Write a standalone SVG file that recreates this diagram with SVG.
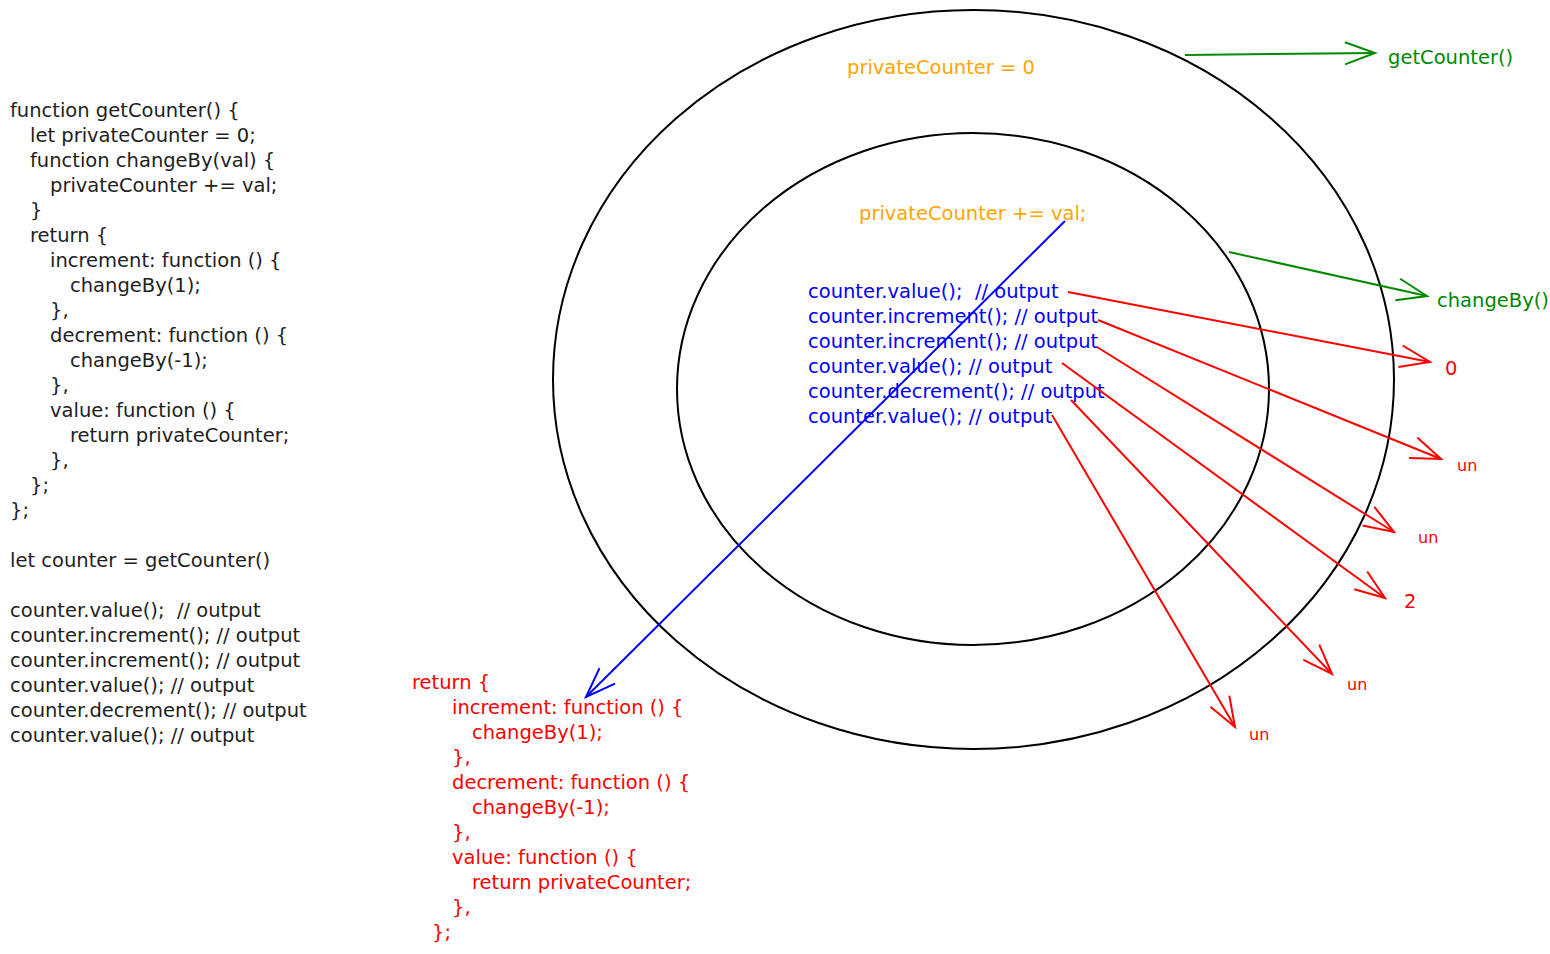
<svg xmlns="http://www.w3.org/2000/svg" width="1550" height="954" viewBox="0 0 1550 954">
<style>
text{font-family:"DejaVu Sans","Liberation Sans",sans-serif;font-size:19.5px;white-space:pre}
.k{fill:#1e1e1e}.r{fill:#f00}.b{fill:#00f}.o{fill:#ffa500}.g{fill:#080}
.sm{font-size:16px}
.ring{fill:none;stroke:#000;stroke-width:2}
.lr{fill:none;stroke:#f00;stroke-width:2;marker-end:url(#mr)}
.lb{fill:none;stroke:#00f;stroke-width:2;marker-end:url(#mb)}
.lg{fill:none;stroke:#080;stroke-width:2;marker-end:url(#mg)}
</style>
<defs>
<marker id="mr" markerUnits="userSpaceOnUse" markerWidth="40" markerHeight="40" refX="0" refY="0" orient="auto" viewBox="-35 -20 40 40" overflow="visible"><path d="M-30 -11 L0 0 L-30 11" fill="none" stroke="#f00" stroke-width="2"/></marker>
<marker id="mb" markerUnits="userSpaceOnUse" markerWidth="40" markerHeight="40" refX="0" refY="0" orient="auto" viewBox="-35 -20 40 40" overflow="visible"><path d="M-30 -11 L0 0 L-30 11" fill="none" stroke="#00f" stroke-width="2"/></marker>
<marker id="mg" markerUnits="userSpaceOnUse" markerWidth="40" markerHeight="40" refX="0" refY="0" orient="auto" viewBox="-35 -20 40 40" overflow="visible"><path d="M-30 -11 L0 0 L-30 11" fill="none" stroke="#080" stroke-width="2"/></marker>
</defs>
<rect width="1550" height="954" fill="#fff"/>
<g id="source-code">
<text class="k">
<tspan x="10" y="117">function getCounter() {</tspan>
<tspan x="30" y="142">let privateCounter = 0;</tspan>
<tspan x="30" y="167">function changeBy(val) {</tspan>
<tspan x="50" y="192">privateCounter += val;</tspan>
<tspan x="30" y="217">}</tspan>
<tspan x="30" y="242">return {</tspan>
<tspan x="50" y="267">increment: function () {</tspan>
<tspan x="70" y="292">changeBy(1);</tspan>
<tspan x="50" y="317">},</tspan>
<tspan x="50" y="342">decrement: function () {</tspan>
<tspan x="70" y="367">changeBy(-1);</tspan>
<tspan x="50" y="392">},</tspan>
<tspan x="50" y="417">value: function () {</tspan>
<tspan x="70" y="442">return privateCounter;</tspan>
<tspan x="50" y="467">},</tspan>
<tspan x="30" y="492">};</tspan>
<tspan x="10" y="517">};</tspan>
<tspan x="10" y="567">let counter = getCounter()</tspan>
<tspan x="10" y="617">counter.value();  // output</tspan>
<tspan x="10" y="642">counter.increment(); // output</tspan>
<tspan x="10" y="667">counter.increment(); // output</tspan>
<tspan x="10" y="692">counter.value(); // output</tspan>
<tspan x="10" y="717">counter.decrement(); // output</tspan>
<tspan x="10" y="742">counter.value(); // output</tspan>
</text>
</g>
<g id="outer-scope">
<ellipse class="ring" cx="973.5" cy="379.5" rx="420.5" ry="369.5"/>
<text class="o" x="847" y="74">privateCounter = 0</text>
</g>
<g id="inner-scope">
<ellipse class="ring" cx="973" cy="389" rx="296" ry="256"/>
<text class="o" x="859" y="220">privateCounter += val;</text>
</g>
<g id="calls">
<text class="b">
<tspan x="808" y="298">counter.value();  // output</tspan>
<tspan x="808" y="323">counter.increment(); // output</tspan>
<tspan x="808" y="348">counter.increment(); // output</tspan>
<tspan x="808" y="373">counter.value(); // output</tspan>
<tspan x="808" y="398">counter.decrement(); // output</tspan>
<tspan x="808" y="423">counter.value(); // output</tspan>
</text>
</g>
<g id="returned-object">
<text class="r">
<tspan x="412" y="689">return {</tspan>
<tspan x="452" y="714">increment: function () {</tspan>
<tspan x="472" y="739">changeBy(1);</tspan>
<tspan x="452" y="764">},</tspan>
<tspan x="452" y="789">decrement: function () {</tspan>
<tspan x="472" y="814">changeBy(-1);</tspan>
<tspan x="452" y="839">},</tspan>
<tspan x="452" y="864">value: function () {</tspan>
<tspan x="472" y="889">return privateCounter;</tspan>
<tspan x="452" y="914">},</tspan>
<tspan x="432" y="939">};</tspan>
</text>
</g>
<g id="label-getCounter"><text class="g" x="1388" y="64">getCounter()</text></g>
<g id="label-changeBy"><text class="g" x="1437" y="307">changeBy()</text></g>
<g id="out-1"><text class="r" x="1445" y="375">0</text></g>
<g id="out-2"><text class="r sm" x="1457" y="471">un</text></g>
<g id="out-3"><text class="r sm" x="1418" y="543">un</text></g>
<g id="out-4"><text class="r" x="1404" y="608">2</text></g>
<g id="out-5"><text class="r sm" x="1347" y="690">un</text></g>
<g id="out-6"><text class="r sm" x="1249" y="740">un</text></g>
<g id="connectors">
<path class="lg" d="M1185 55 L1375 53"/>
<path class="lg" d="M1229 252 L1427 296"/>
<path class="lb" d="M1065 221 L586 697"/>
<path class="lr" d="M1068 292 L1430 362"/>
<path class="lr" d="M1098 320 L1441 459"/>
<path class="lr" d="M1097 347 L1394 532"/>
<path class="lr" d="M1062 363 L1385 598"/>
<path class="lr" d="M1071 400 L1332 674"/>
<path class="lr" d="M1052 415 L1235 727"/>
</g>
</svg>
